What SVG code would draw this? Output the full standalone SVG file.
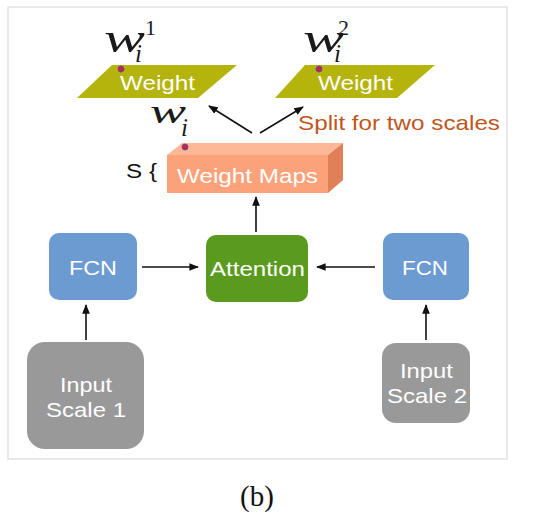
<svg xmlns="http://www.w3.org/2000/svg" width="535" height="520" viewBox="0 0 535 520">
<style>
.lbl{font-family:"Liberation Sans",Arial,sans-serif;fill:#fff;text-anchor:middle;font-size:21px}
.math{font-family:"Liberation Serif","Times New Roman",serif;font-style:italic;fill:#1a1a1a}
.num{font-family:"Liberation Serif","Times New Roman",serif;fill:#1a1a1a}
.edge{stroke:#111;stroke-width:1.6;fill:none;marker-end:url(#ah)}
.dot{fill:#cc2244;stroke:#6a4a8a;stroke-width:1}
</style>
<defs>
<marker id="ah" viewBox="0 0 10 10" refX="9" refY="5" markerWidth="6" markerHeight="6" orient="auto-start-reverse">
<path d="M0,1 L10,5 L0,9 z" fill="#111"/>
</marker>
</defs>
<rect x="8" y="7" width="499" height="452" fill="#fff" stroke="#e2e2e2" stroke-width="1.5"/>

<g id="connectors">
<path class="edge" d="M252,133 L209,106"/>
<path class="edge" d="M260,133 L303,107"/>
<path class="edge" d="M256,232 L256,197"/>
<path class="edge" d="M142,267 L198,267"/>
<path class="edge" d="M375,267 L317,267"/>
<path class="edge" d="M86,340 L86,305"/>
<path class="edge" d="M426,340 L426,305"/>
</g>

<g id="weight1">
<polygon points="112,65 237,65 198,98 77,98" fill="#b4b40c"/>
<text class="lbl" x="157.5" y="90" textLength="75" lengthAdjust="spacingAndGlyphs">Weight</text>
<circle class="dot" cx="121" cy="69" r="3"/>
</g>
<g id="w1label">
<text class="math" x="104" y="52" font-size="43" textLength="41" lengthAdjust="spacingAndGlyphs">w</text>
<text class="num" x="145" y="35" font-size="22">1</text>
<text class="math" x="135" y="62" font-size="25">i</text>
</g>

<g id="weight2">
<polygon points="305,65 435,65 397,98 275,98" fill="#b4b40c"/>
<text class="lbl" x="355.5" y="90" textLength="75" lengthAdjust="spacingAndGlyphs">Weight</text>
<circle class="dot" cx="319" cy="69" r="3"/>
</g>
<g id="w2label">
<text class="math" x="303" y="52" font-size="43" textLength="41" lengthAdjust="spacingAndGlyphs">w</text>
<text class="num" x="338" y="35" font-size="22">2</text>
<text class="math" x="334" y="62" font-size="25">i</text>
</g>

<g id="wilabel">
<text class="math" x="150" y="123" font-size="34" textLength="36" lengthAdjust="spacingAndGlyphs">w</text>
<text class="math" x="181" y="136" font-size="25">i</text>
</g>

<text x="298" y="130" font-family="Liberation Sans,Arial,sans-serif" font-size="21" fill="#c0561c" textLength="202" lengthAdjust="spacingAndGlyphs">Split for two scales</text>

<g id="weightmaps">
<polygon points="167,155 182,143 343,143 328,155" fill="#fdb898"/>
<polygon points="328,155 343,143 343,180 328,193" fill="#e08058"/>
<rect x="167" y="155" width="161" height="38" fill="#fca27a"/>
<text class="lbl" x="247.5" y="183" font-size="22" textLength="141" lengthAdjust="spacingAndGlyphs">Weight Maps</text>
<circle class="dot" cx="185" cy="147" r="3"/>
</g>
<text x="126" y="178" font-family="Liberation Sans,Arial,sans-serif" font-size="20" fill="#111" textLength="31" lengthAdjust="spacingAndGlyphs">S {</text>

<g id="fcn1">
<rect x="49" y="233" width="88" height="67" rx="10" fill="#6c9bd2"/>
<text class="lbl" x="93" y="275" textLength="48" lengthAdjust="spacingAndGlyphs">FCN</text>
</g>
<g id="attention">
<rect x="206" y="235" width="102" height="67" rx="10" fill="#5a9a1f"/>
<text class="lbl" x="257.5" y="276" textLength="95" lengthAdjust="spacingAndGlyphs">Attention</text>
</g>
<g id="fcn2">
<rect x="383" y="233" width="86" height="67" rx="10" fill="#6c9bd2"/>
<text class="lbl" x="425" y="275" textLength="46" lengthAdjust="spacingAndGlyphs">FCN</text>
</g>
<g id="input1">
<rect x="27" y="342" width="117" height="107" rx="18" fill="#999"/>
<text class="lbl" x="86" y="392" textLength="52" lengthAdjust="spacingAndGlyphs">Input</text>
<text class="lbl" x="86" y="417" textLength="80" lengthAdjust="spacingAndGlyphs">Scale 1</text>
</g>
<g id="input2">
<rect x="382" y="343" width="88" height="80" rx="14" fill="#999"/>
<text class="lbl" x="426.5" y="378" textLength="53" lengthAdjust="spacingAndGlyphs">Input</text>
<text class="lbl" x="427" y="403" textLength="80" lengthAdjust="spacingAndGlyphs">Scale 2</text>
</g>
<text x="257" y="506" font-family="Liberation Serif,Times New Roman,serif" font-size="29" text-anchor="middle" fill="#111">(b)</text>
</svg>
